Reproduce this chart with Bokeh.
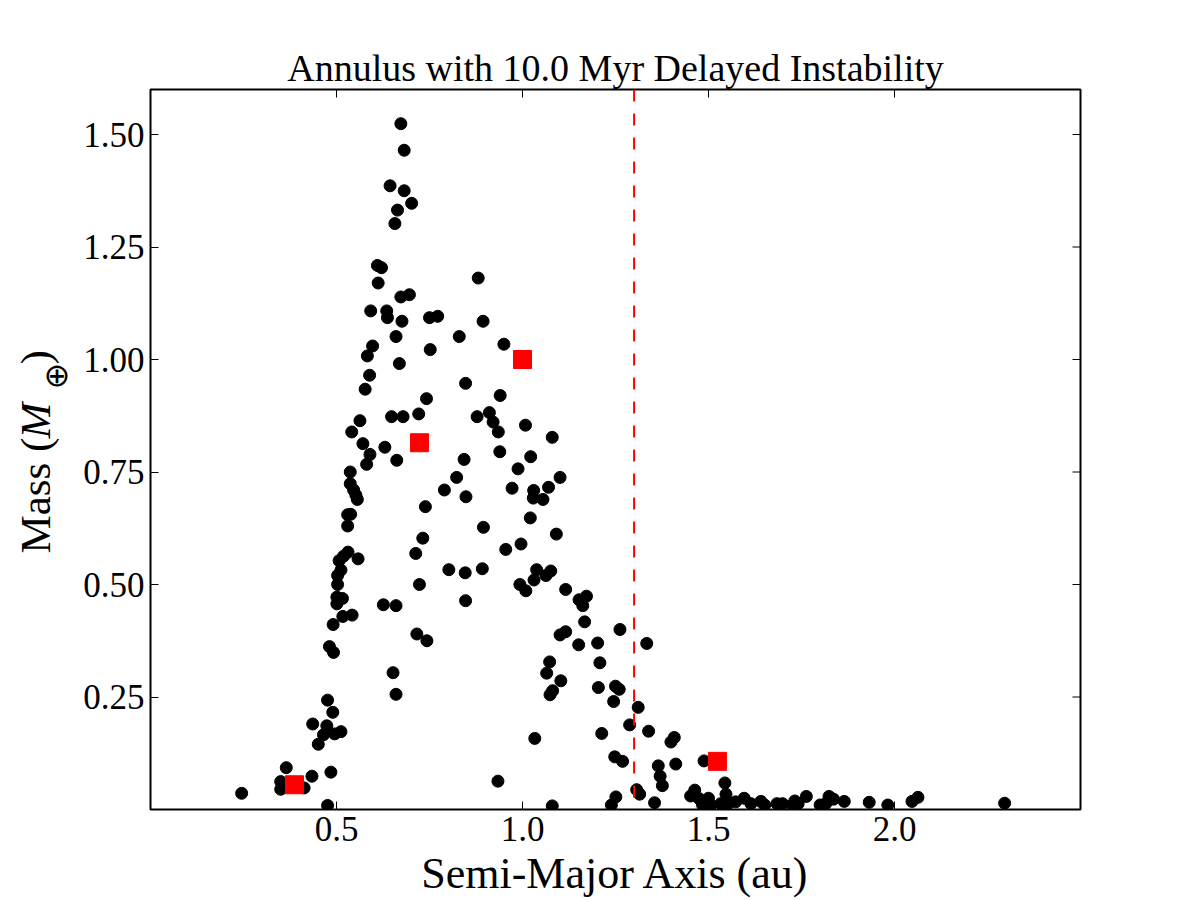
import math
from bokeh.plotting import figure
from bokeh.layouts import row
from bokeh.models import FixedTicker, NumeralTickFormatter, Span, ColumnDataSource, Label
from bokeh.embed import file_html
from bokeh.resources import INLINE

title_text = "Annulus with 10.0 Myr Delayed Instability"
x_label = "Semi-Major Axis (au)"
y_label_parts = ["Mass (", "M", "⊕", ")"]

x_min, x_max = 0.0, 2.5
y_min, y_max = 0.0, 1.6
x_ticks = [0.5, 1.0, 1.5, 2.0]
y_ticks = [0.25, 0.5, 0.75, 1.0, 1.25, 1.5]
instability_a = 1.3

sim_a = [
    0.673, 0.682, 0.644, 0.682, 0.702, 0.664, 0.657, 0.610, 0.621, 0.612, 0.673, 0.696, 0.592, 0.635, 0.637, 0.676, 0.750, 0.772,
    0.660, 0.597, 0.583, 0.752, 0.669, 0.589, 0.577, 0.742, 0.648, 0.679, 0.721, 0.563, 0.541, 0.571, 0.630, 0.590, 0.581, 0.662,
    0.537, 0.537, 0.546, 0.552, 0.556, 0.790, 0.739, 0.530, 0.538, 0.530, 0.732, 0.713, 0.531, 0.519, 0.507, 0.558, 0.512, 0.503,
    0.503, 0.723, 0.501, 0.516, 0.501, 0.517, 0.542, 0.626, 0.660, 0.491, 0.481, 0.492, 0.716, 0.743, 0.652, 0.660, 0.476, 0.490,
    0.436, 0.474, 0.465, 0.495, 0.512, 0.451, 0.365, 0.485, 0.434, 0.350, 0.350, 0.413, 0.245, 0.476,
    0.881, 0.894,
    0.830, 0.950, 0.847, 0.940, 0.878, 0.911, 0.921, 0.935, 1.008, 1.080, 0.939, 0.843, 1.022, 0.988, 0.823, 1.101, 0.972, 1.030,
    1.029, 1.055, 1.070, 0.848, 1.021, 0.895, 1.091, 0.996, 0.955, 0.802, 0.846, 0.892, 1.038, 1.076, 1.063, 1.031,
    0.993, 1.009, 0.847, 1.116, 1.152, 1.172, 1.162, 1.167, 1.262, 1.101, 1.116, 1.151, 1.202, 1.334, 1.073, 1.208, 1.065, 1.103,
    1.204, 1.250, 1.260, 1.081, 1.074, 1.245, 1.311, 1.288, 1.339, 1.213, 1.033, 1.408, 1.399, 1.248, 1.269, 1.365, 1.412, 1.488,
    1.370, 1.376, 1.544, 0.934, 1.307, 1.315, 1.251, 1.239, 1.080, 1.355, 1.463, 1.452, 1.475, 1.500, 1.547, 1.484, 1.506, 1.533,
    1.553, 1.573,
    1.596, 1.614, 1.641, 1.651, 1.684, 1.699, 1.726, 1.732, 1.741, 1.763, 1.800, 1.815, 1.824, 1.836, 1.865, 1.932, 1.982, 2.047,
    2.063, 2.296,
]
sim_m = [
    1.524, 1.465, 1.386, 1.375, 1.347, 1.332, 1.302, 1.209, 1.204, 1.170, 1.139, 1.144, 1.108, 1.108, 1.093, 1.085, 1.093, 1.096,
    1.051, 1.030, 1.008, 1.022, 0.991, 0.965, 0.934, 0.913, 0.873, 0.873, 0.879, 0.864, 0.839, 0.813, 0.805, 0.789, 0.767, 0.776,
    0.750, 0.724, 0.710, 0.699, 0.689, 0.710, 0.673, 0.655, 0.656, 0.630, 0.603, 0.569, 0.572, 0.563, 0.553, 0.557, 0.532, 0.520,
    0.500, 0.500, 0.472, 0.469, 0.457, 0.429, 0.432, 0.455, 0.453, 0.411, 0.362, 0.349, 0.390, 0.375, 0.304, 0.256, 0.243, 0.216,
    0.190, 0.186, 0.166, 0.168, 0.173, 0.145, 0.093, 0.083, 0.074, 0.062, 0.045, 0.048, 0.036, 0.009,
    1.181, 1.085,
    1.051, 1.034, 0.947, 0.920, 0.873, 0.882, 0.861, 0.839, 0.854, 0.827, 0.795, 0.778, 0.784, 0.757, 0.738, 0.738, 0.714, 0.709,
    0.692, 0.689, 0.716, 0.695, 0.648, 0.627, 0.612, 0.590, 0.578, 0.533, 0.526, 0.535, 0.533, 0.530, 0.520, 0.510,
    0.500, 0.486, 0.464, 0.489, 0.466, 0.474, 0.453, 0.417, 0.400, 0.388, 0.395, 0.366, 0.370, 0.369, 0.328, 0.326, 0.303, 0.286,
    0.271, 0.274, 0.267, 0.264, 0.255, 0.240, 0.227, 0.188, 0.174, 0.169, 0.158, 0.160, 0.150, 0.117, 0.107, 0.097, 0.101, 0.108,
    0.074, 0.053, 0.059, 0.063, 0.044, 0.034, 0.028, 0.010, 0.008, 0.015, 0.043, 0.030, 0.024, 0.025, 0.034, 0.010, 0.010, 0.013,
    0.013, 0.017,
    0.025, 0.013, 0.018, 0.010, 0.013, 0.013, 0.010, 0.019, 0.013, 0.029, 0.010, 0.013, 0.029, 0.023, 0.018, 0.016, 0.010, 0.018,
    0.027, 0.014,
]

planet_a = [0.387, 0.723, 1.000, 1.524]
planet_m = [0.055, 0.815, 1.000, 0.107]

FONT = "Liberation Serif"
W, H = 1200, 900
LABEL_W = 80
B_LEFT, B_RIGHT, B_TOP, B_BOTTOM = 150 - LABEL_W, 120, 89, 91

p = figure(width=W - LABEL_W, height=H, x_range=(x_min, x_max), y_range=(y_min, y_max),
           output_backend="svg", toolbar_location=None,
           min_border_left=B_LEFT, min_border_right=B_RIGHT,
           min_border_top=B_TOP, min_border_bottom=B_BOTTOM)

p.title.text = title_text
p.title.text_font = FONT
p.title.text_font_size = "38px"
p.title.text_font_style = "normal"
p.title.align = "center"
p.title.text_color = "black"
p.title.standoff = 2

p.grid.visible = False
p.outline_line_color = "black"
p.outline_line_width = 2
p.background_fill_color = "white"
p.border_fill_color = "white"

xax = p.below[0]
yax = p.left[0]
xax.ticker = FixedTicker(ticks=x_ticks)
xax.formatter = NumeralTickFormatter(format="0.0")
yax.ticker = FixedTicker(ticks=y_ticks)
yax.formatter = NumeralTickFormatter(format="0.00")
xax.axis_label = x_label

for ax in [xax, yax]:
    ax.axis_line_color = None
    ax.major_tick_in = 8
    ax.major_tick_out = 0
    ax.major_tick_line_color = "black"
    ax.major_tick_line_width = 1
    ax.minor_tick_line_color = None
    ax.major_label_text_font = FONT
    ax.major_label_text_font_size = "35px"
    ax.major_label_text_color = "black"
    ax.axis_label_text_font = FONT
    ax.axis_label_text_font_size = "44px"
    ax.axis_label_text_font_style = "normal"
    ax.axis_label_text_color = "black"
xax.major_label_standoff = 7
xax.axis_label_standoff = 5
yax.major_label_standoff = 6

# ticks on top and right edges (half of a dash marker centred on the frame edge is clipped away)
p.scatter(x=x_ticks, y=[y_max] * len(x_ticks), marker="dash", size=16, angle=math.pi / 2,
          line_color="black", line_width=1)
p.scatter(x=[x_max] * len(y_ticks), y=y_ticks, marker="dash", size=16,
          line_color="black", line_width=1)

p.add_layout(Span(location=instability_a, dimension="height", line_color="red",
                  line_width=2, line_dash="12 12"))

src = ColumnDataSource(dict(a=sim_a, m=sim_m))
p.scatter("a", "m", source=src, size=12, marker="circle", fill_color="black", line_color="black")
psrc = ColumnDataSource(dict(a=planet_a, m=planet_m))
p.scatter("a", "m", source=psrc, size=18, marker="square", fill_color="red", line_color="red")

# y-axis label "Mass (M⊕)" (italic M, subscript ⊕) in a narrow strip on the left;
# the row aligns this strip's frame with the main frame, so screen y counts from the frame bottom
lab = figure(width=LABEL_W, height=H, x_range=(0, LABEL_W), y_range=(0, H),
             output_backend="svg", toolbar_location=None,
             min_border=0, min_border_left=0, min_border_right=0, min_border_top=0, min_border_bottom=0,
             x_axis_location=None, y_axis_location=None)
lab.grid.visible = False
lab.outline_line_color = None
lab.background_fill_color = "white"
lab.border_fill_color = "white"

frame_bottom = H - B_BOTTOM
label_specs = [
    (y_label_parts[0], 35, 553, "43px", "normal", FONT),
    (y_label_parts[1], 35, 438, "43px", "italic", FONT),
    (y_label_parts[2], 55, 389, "32px", "normal", "DejaVu Sans"),
    (y_label_parts[3], 35, 364, "43px", "normal", FONT),
]
for txt, px, py, fs, style, font in label_specs:
    lab.add_layout(Label(x=px, y=frame_bottom - py, x_units="screen", y_units="screen",
                         text=txt, angle=math.pi / 2, text_font=font,
                         text_font_size=fs, text_font_style=style, text_color="black",
                         text_baseline="alphabetic", text_align="left"))

layout = row(lab, p, spacing=0)
open("out.html", "w").write(file_html(layout, INLINE))
